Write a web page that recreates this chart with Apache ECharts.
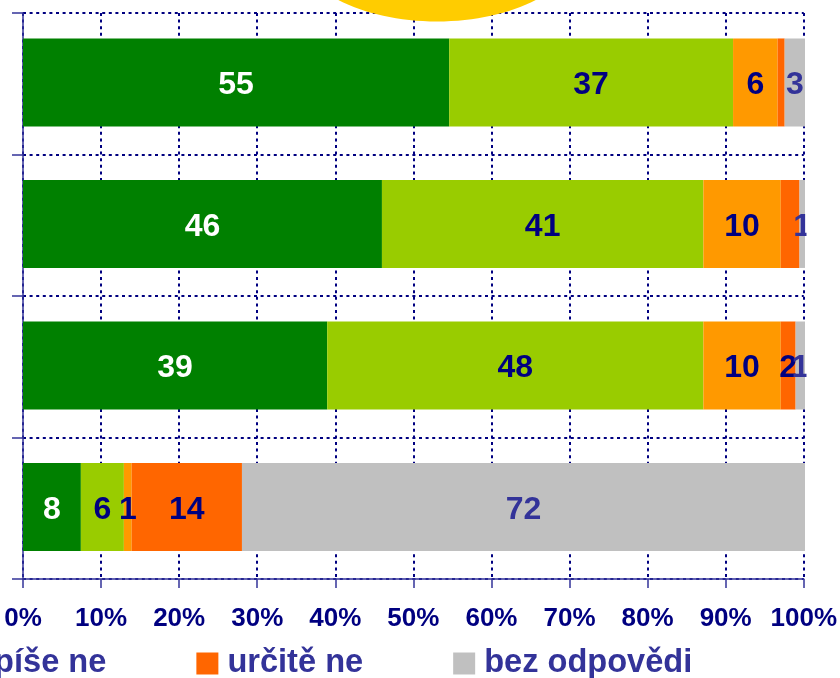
<!DOCTYPE html>
<html><head><meta charset="utf-8">
<style>html,body{margin:0;padding:0;background:#fff}#c{width:840px;height:678px}</style>
<script src="https://cdn.jsdelivr.net/npm/echarts@6/dist/echarts.min.js"></script>
</head><body><div id="c"></div>
<script>
const categories = ['A','B','C','D'];
const seriesNames = ['určitě ano','spíše ano','spíše ne','určitě ne','bez odpovědi'];
const colors = ['#008000','#99CC00','#FF9900','#FF6600','#C0C0C0'];
const labelColors = ['#FFFFFF','#000080','#000080','#000080','#333399'];
const urciteAno = [54.5,45.9,38.9,7.4];
const spiseAno = [36.3,41.1,48.1,5.5];
const spiseNe = [5.7,9.9,9.9,1.0];
const urciteNe = [0.9,2.4,1.9,14.1];
const bezOdpovedi = [2.6,0.7,1.2,72.0];
const labelsUrciteAno = ['55','46','39','8'];
const labelsSpiseAno = ['37','41','48','6'];
const labelsSpiseNe = ['6','10','10','1'];
const labelsUrciteNe = ['','','2','14'];
const labelsBez = ['3','1','1','72'];
const xTicks = [0,10,20,30,40,50,60,70,80,90,100];

const values = [urciteAno,spiseAno,spiseNe,urciteNe,bezOdpovedi];
const labels = [labelsUrciteAno,labelsSpiseAno,labelsSpiseNe,labelsUrciteNe,labelsBez];
const font = 'Liberation Sans, Arial, sans-serif';
const chart = echarts.init(document.getElementById('c'),null,{renderer:'canvas'});
const dotted = {color:'#000080',width:2,type:[3,3.6]};
chart.setOption({
  animation:false,
  backgroundColor:'#fff',
  grid:[
    {left:23,top:13,width:782,height:566,containLabel:false},
    {left:23,top:11.7,width:782,height:566,containLabel:false}
  ],
  xAxis:[
    {gridIndex:0,type:'value',min:xTicks[0],max:xTicks[xTicks.length-1],interval:10,
     axisLine:{show:true,lineStyle:{color:'#333399',width:1.5}},
     axisTick:{show:true,length:9,lineStyle:{color:'#333399',width:1.5}},
     axisLabel:{formatter:'{value}%',color:'#000080',fontFamily:font,fontWeight:'bold',fontSize:26,margin:27,hideOverlap:false},
     splitLine:{show:true,lineStyle:dotted}},
    {gridIndex:1,type:'value',min:0,max:100,show:false}
  ],
  yAxis:[
    {gridIndex:0,type:'category',data:categories,inverse:true,
     axisLine:{show:true,onZero:false,lineStyle:{color:'#333399',width:1.5}},
     axisTick:{show:true,length:11,lineStyle:{color:'#333399',width:1.5}},
     axisLabel:{show:false},
     splitLine:{show:true,lineStyle:dotted}},
    {gridIndex:1,type:'category',data:categories,inverse:true,show:false}
  ],
  legend:{
    data:seriesNames.slice(2),
    left:-60,top:642,width:2000,
    icon:'rect',itemWidth:22,itemHeight:22,itemGap:90,
    textStyle:{color:'#333399',fontFamily:font,fontWeight:'bold',fontSize:32.6,padding:[4,0,0,4]},
    selectedMode:false
  },
  series:seriesNames.map((name,i)=>({
    name,type:'bar',stack:'t',xAxisIndex:1,yAxisIndex:1,barWidth:88,
    itemStyle:{color:colors[i]},
    data:values[i],
    z:3,
    label:{show:true,position:'inside',offset:[0,3],color:labelColors[i],fontFamily:font,fontWeight:'bold',fontSize:32,
      formatter:p=>labels[i][p.dataIndex]}
  })),
  graphic:[
    {type:'ellipse',shape:{cx:437,cy:-61.5,rx:147,ry:83},style:{fill:'#FFCC00'},z:10},
    {type:'rect',shape:{x:806.5,y:170,width:33.5,height:250},style:{fill:'#FFFFFF'},z:10}
  ]
});
</script></body></html>
